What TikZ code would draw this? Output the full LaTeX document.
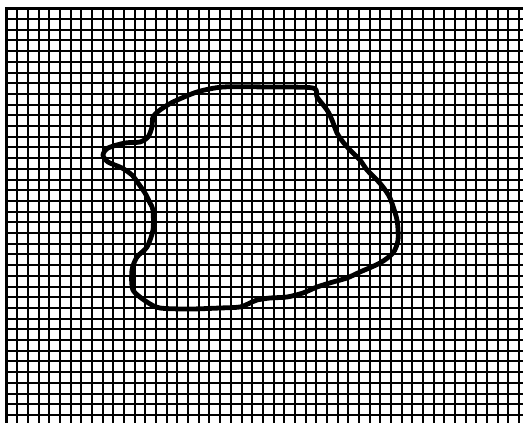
\documentclass[tikz,border=0pt]{standalone}
\begin{document}
\begin{tikzpicture}[x=1pt,y=-1pt,
  gridline/.style={line width=2pt,black},
  borderline/.style={line width=3.5pt,black},
  blobline/.style={line width=4.8pt,black,line join=round}]
\useasboundingbox (0,0) rectangle (523,423);
\fill[white] (0,0) rectangle (523,423);
\begin{scope}
\clip (0,0) rectangle (523,423);
\foreach \i in {0,...,49} {
  \draw[gridline] ({6.7+10.673*\i},8.3) -- ({6.7+10.673*\i},430);
}
\foreach \j in {0,...,39} {
  \draw[gridline] (6.7,{8.3+10.7*\j}) -- (530,{8.3+10.7*\j});
}
\draw[borderline] (6.7,430) -- (6.7,8.3) -- (530,8.3);
\end{scope}
\draw[blobline] plot[smooth cycle, tension=0.45] coordinates {
(223,87) (268,87) (313,88) (317,97) (327,110) (332,120) (337,133) (343,142)
(350,150) (360,160) (367,170) (377,180) (383,187) (390,198) (397,220)
(398,240) (393,253) (380,263) (360,272) (347,278) (333,282) (317,287)
(303,293) (287,297) (270,298) (257,300) (250,303) (240,307) (220,308)
(190,309) (160,308) (147,302) (133,290) (132,270) (137,257) (147,247)
(153,230) (153,210) (150,203) (145,193) (138,183) (132,175) (122,168)
(108,162) (103,155) (108,148) (125,143) (140,142) (148,137) (152,127)
(153,117) (160,110) (173,102) (197,92)};
\end{tikzpicture}
\end{document}
